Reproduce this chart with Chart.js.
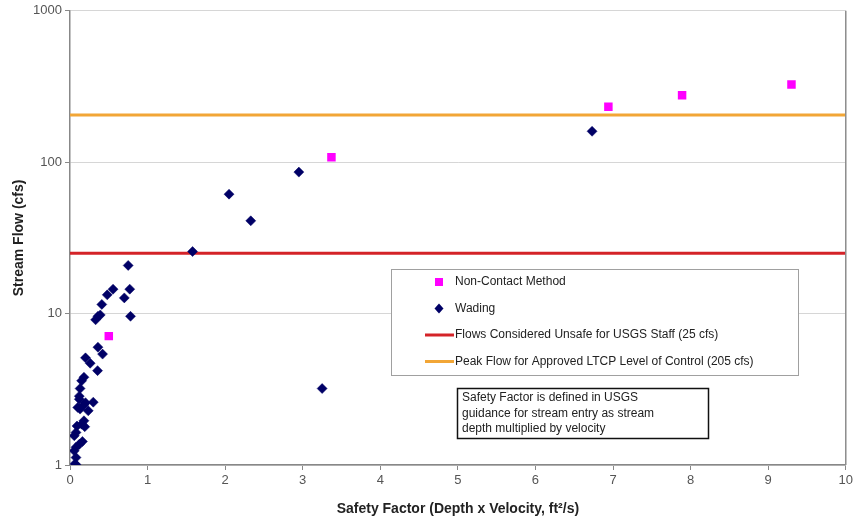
<!DOCTYPE html>
<html>
<head>
<meta charset="utf-8">
<script src="https://cdn.jsdelivr.net/npm/chart.js@4/dist/chart.umd.min.js"></script>
<style>
  html, body { margin: 0; padding: 0; background: #fff; }
  canvas { display: block; }
</style>
</head>
<body>
<canvas id="flowChart" width="856" height="523"></canvas>
<script>
// Non-contact (radar / ADCP) measurements
const contactFactor = [0.50, 3.37, 6.94, 7.89, 9.30];
const contactFlow   = [7.1, 108, 232, 277, 326];

// Wading measurements
const wadingFactor = [
  1.58, 2.05, 2.33, 2.95, 3.25, 6.73,
  0.75, 0.555, 0.77, 0.48, 0.70, 0.41, 0.39, 0.36, 0.33, 0.78,
  0.36, 0.42, 0.20, 0.26, 0.355, 0.18, 0.15, 0.13, 0.12, 0.12,
  0.30, 0.18, 0.13, 0.235, 0.10, 0.20, 0.18, 0.15, 0.09, 0.19, 0.077,
  0.055, 0.16, 0.12, 0.077, 0.055, 0.077, 0.064, 0.08
];
const wadingFlow = [
  25.7, 61.5, 41, 86, 3.2, 160,
  20.8, 14.5, 14.5, 13.3, 12.7, 11.5, 9.8, 9.6, 9.1, 9.6,
  6.0, 5.4, 5.1, 4.7, 4.2, 3.8, 3.6, 3.2, 2.85, 2.72,
  2.6, 2.5, 2.34, 2.28, 2.4, 2.58, 1.96, 1.86, 1.81, 1.79, 1.64,
  1.56, 1.43, 1.37, 1.31, 1.24, 1.12, 1.02, 1.0
];

const unsafeFlow = 25;   // cfs
const ltcpFlow = 205;    // cfs
const factorRange = [0, 10];
const flowDecades = [1, 10, 100, 1000];

const legendItems = [
  { label: 'Non-Contact Method', kind: 'square', color: '#ff00ff' },
  { label: 'Wading', kind: 'diamond', color: '#000066' },
  { label: 'Flows Considered Unsafe for USGS Staff (25 cfs)', kind: 'line', color: '#d42328' },
  { label: 'Peak Flow for Approved LTCP Level of Control (205 cfs)', kind: 'line', color: '#f2a636' }
];
const noteLines = [
  'Safety Factor is defined in USGS',
  'guidance for stream entry as stream',
  'depth multiplied by velocity'
];

const FONT = "Arial, 'Liberation Sans', sans-serif";

const toPoints = (xs, ys) => xs.map((x, i) => ({ x: x, y: ys[i] }));
const flatLine = v => factorRange.map(x => ({ x: x, y: v }));

// right frame, legend box and the note box
const overlayPlugin = {
  id: 'overlay',
  afterDraw(chart) {
    const { ctx, chartArea } = chart;
    ctx.save();
    ctx.strokeStyle = '#8c8c8c';
    ctx.lineWidth = 1.5;
    ctx.beginPath();
    ctx.moveTo(chartArea.right, chartArea.top);
    ctx.lineTo(chartArea.right, chartArea.bottom);
    ctx.stroke();

    // legend
    ctx.fillStyle = '#fff';
    ctx.fillRect(391, 269, 407, 106);
    ctx.strokeStyle = '#a0a0a0';
    ctx.lineWidth = 1;
    ctx.strokeRect(391.5, 269.5, 407, 106);
    ctx.font = '12px ' + FONT;
    ctx.textBaseline = 'middle';
    legendItems.forEach((item, i) => {
      const y = 282 + i * 26.5;
      ctx.fillStyle = item.color;
      if (item.kind === 'square') {
        ctx.fillRect(435, y - 4, 8, 8);
      } else if (item.kind === 'diamond') {
        ctx.beginPath();
        ctx.moveTo(439, y - 5);
        ctx.lineTo(443.5, y);
        ctx.lineTo(439, y + 5);
        ctx.lineTo(434.5, y);
        ctx.closePath();
        ctx.fill();
      } else {
        ctx.strokeStyle = item.color;
        ctx.lineWidth = 3;
        ctx.beginPath();
        ctx.moveTo(425, y);
        ctx.lineTo(454, y);
        ctx.stroke();
      }
      ctx.fillStyle = '#222';
      ctx.fillText(item.label, 455, y);
    });

    // note
    ctx.fillStyle = '#fff';
    ctx.fillRect(457, 388, 252, 51);
    ctx.strokeStyle = '#111';
    ctx.lineWidth = 1.5;
    ctx.strokeRect(457.5, 388.5, 251, 50);
    ctx.fillStyle = '#222';
    noteLines.forEach((t, i) => ctx.fillText(t, 462, 398 + i * 15.5));
    ctx.restore();
  }
};

new Chart(document.getElementById('flowChart'), {
  type: 'scatter',
  data: {
    datasets: [
      {
        label: 'Wading',
        data: toPoints(wadingFactor, wadingFlow),
        pointStyle: 'rectRot',
        pointRadius: 5,
        backgroundColor: '#000066',
        borderColor: '#000066',
        borderWidth: 0.5,
        order: 1
      },
      {
        label: 'Non-Contact Method',
        data: toPoints(contactFactor, contactFlow),
        pointStyle: 'rect',
        pointRadius: 6,
        backgroundColor: '#ff00ff',
        borderColor: '#ff00ff',
        borderWidth: 0,
        order: 2
      },
      {
        type: 'line',
        label: 'Flows Considered Unsafe for USGS Staff (25 cfs)',
        data: flatLine(unsafeFlow),
        borderColor: '#d42328',
        borderWidth: 3,
        pointRadius: 0,
        order: 3
      },
      {
        type: 'line',
        label: 'Peak Flow for Approved LTCP Level of Control (205 cfs)',
        data: flatLine(ltcpFlow),
        borderColor: '#f2a636',
        borderWidth: 3,
        pointRadius: 0,
        order: 3
      }
    ]
  },
  plugins: [overlayPlugin],
  options: {
    responsive: false,
    animation: false,
    layout: { padding: { top: 10, right: 9, left: 0, bottom: 0 } },
    scales: {
      x: {
        type: 'linear',
        min: factorRange[0],
        max: factorRange[1],
        afterFit: s => { s.height = 58; },
        ticks: { stepSize: 1, color: '#555', padding: 3, font: { family: FONT, size: 13 } },
        grid: { drawOnChartArea: false, tickLength: 5, tickColor: '#888' },
        border: { color: '#888', width: 1.5 },
        title: {
          display: true,
          text: 'Safety Factor (Depth x Velocity, ft\u00B2/s)',
          color: '#222',
          font: { family: FONT, size: 14, weight: 'bold' },
          padding: { top: 4, bottom: 5 }
        }
      },
      y: {
        type: 'logarithmic',
        min: 1,
        max: 1000,
        afterFit: s => { s.width = 70; },
        afterBuildTicks: s => { s.ticks = flowDecades.map(v => ({ value: v })); },
        ticks: { color: '#555', padding: 3, font: { family: FONT, size: 13 }, callback: v => String(v) },
        grid: { color: '#d6d6d6', tickLength: 5, tickColor: '#888' },
        border: { color: '#888', width: 1.5 },
        title: {
          display: true,
          text: 'Stream Flow (cfs)',
          color: '#222',
          font: { family: FONT, size: 14, weight: 'bold' },
          padding: { top: 11, bottom: 10 }
        }
      }
    },
    plugins: { legend: { display: false }, tooltip: { enabled: false } }
  }
});
</script>
</body>
</html>
